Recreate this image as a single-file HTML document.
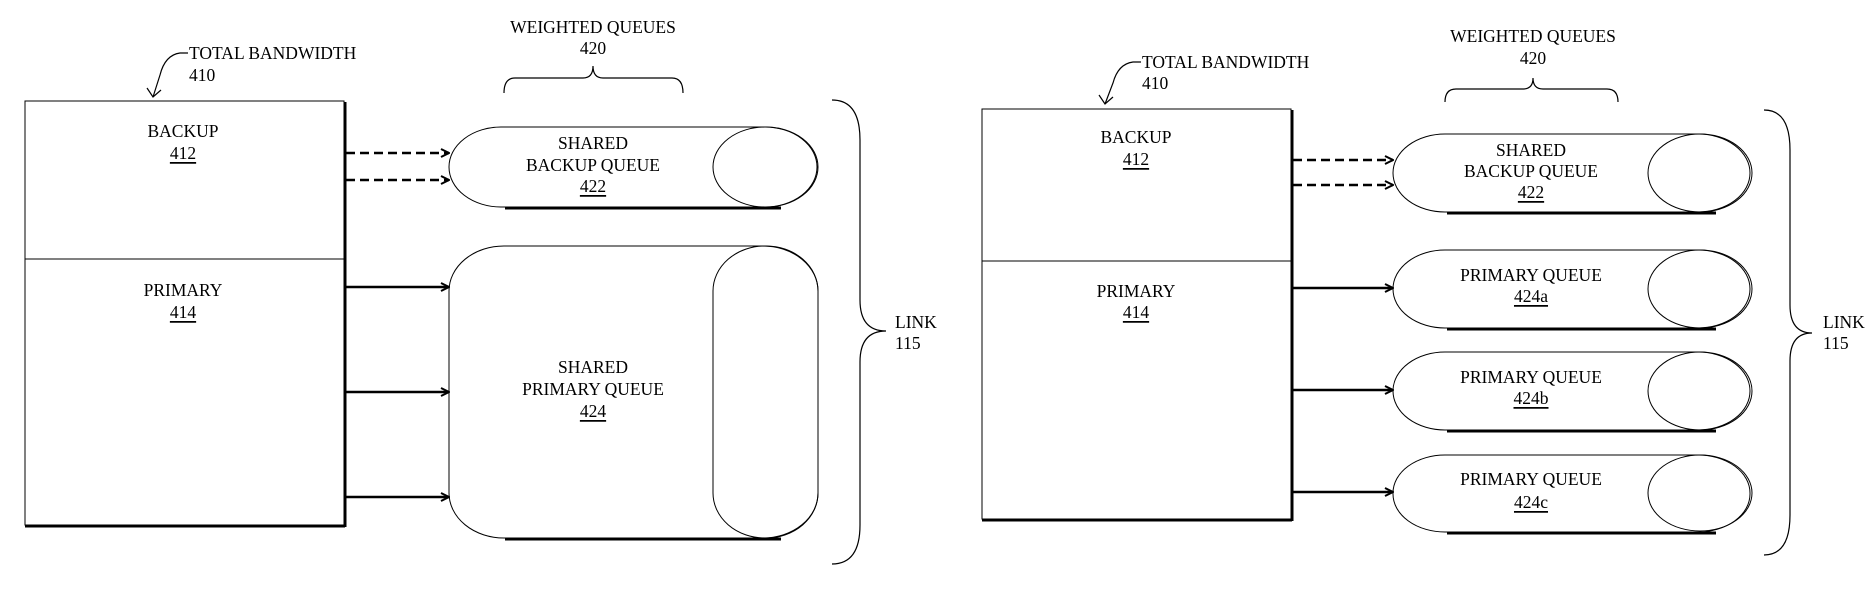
<!DOCTYPE html>
<html><head><meta charset="utf-8"><style>
html,body{margin:0;padding:0;background:#fff}
svg{display:block}
text{font-family:"Liberation Serif",serif;font-size:17.5px;fill:#000}
</style></head><body>
<svg width="1875" height="593" viewBox="0 0 1875 593" xmlns="http://www.w3.org/2000/svg">
<defs>
<marker id="ah" markerWidth="10" markerHeight="10" refX="9" refY="5" orient="auto" markerUnits="userSpaceOnUse">
<path d="M1,1 L9,5 L1,9" fill="none" stroke="#000" stroke-width="2"/>
</marker>
</defs>
<g fill="none" stroke="#000">
<!-- LEFT PANEL -->
<rect x="25" y="101" width="319" height="424" stroke-width="1"/>
<line x1="25" y1="526" x2="345" y2="526" stroke-width="3"/>
<line x1="345" y1="102" x2="345" y2="527" stroke-width="3"/>
<line x1="25" y1="259" x2="344" y2="259" stroke-width="1"/>
<line x1="346" y1="153" x2="449" y2="153" stroke-width="2.5" stroke-dasharray="9,5" marker-end="url(#ah)"/>
<line x1="346" y1="180" x2="449" y2="180" stroke-width="2.5" stroke-dasharray="9,5" marker-end="url(#ah)"/>
<line x1="346" y1="287" x2="449" y2="287" stroke-width="2.5" marker-end="url(#ah)"/>
<line x1="346" y1="392" x2="449" y2="392" stroke-width="2.5" marker-end="url(#ah)"/>
<line x1="346" y1="497" x2="449" y2="497" stroke-width="2.5" marker-end="url(#ah)"/>
<rect x="449" y="127" width="369" height="80" rx="52" ry="40" stroke-width="1"/>
<ellipse cx="765" cy="167" rx="52" ry="40" stroke-width="1"/>
<line x1="505" y1="208" x2="781" y2="208" stroke-width="3"/>
<rect x="449" y="246" width="369" height="292" rx="55" ry="45" stroke-width="1"/>
<rect x="713" y="246" width="105" height="292" rx="52" ry="45" stroke-width="1"/>
<line x1="505" y1="539" x2="781" y2="539" stroke-width="3"/>
<path d="M504,93 Q504,78 515,78 L583,78 Q593,78 593,66 Q593,78 603,78 L672,78 Q683,78 683,93" stroke-width="1.2"/>
<path d="M832,100 Q860,100 860,140 L860,300 Q860,331 886,331 Q860,331 860,362 L860,525 Q860,564 832,564" stroke-width="1.2"/>
<path d="M188,53 L180,53 Q165,55 160,75 L153,97" stroke-width="1.2"/>
<path d="M147,88 L153,97 L161,90" stroke-width="1.2"/>
<!-- RIGHT PANEL -->
<rect x="982" y="109" width="309" height="410" stroke-width="1"/>
<line x1="982" y1="520" x2="1292" y2="520" stroke-width="3"/>
<line x1="1292" y1="110" x2="1292" y2="521" stroke-width="3"/>
<line x1="982" y1="261" x2="1291" y2="261" stroke-width="1"/>
<line x1="1293" y1="160" x2="1393" y2="160" stroke-width="2.5" stroke-dasharray="9,5" marker-end="url(#ah)"/>
<line x1="1293" y1="185" x2="1393" y2="185" stroke-width="2.5" stroke-dasharray="9,5" marker-end="url(#ah)"/>
<line x1="1293" y1="288" x2="1393" y2="288" stroke-width="2.5" marker-end="url(#ah)"/>
<line x1="1293" y1="390" x2="1393" y2="390" stroke-width="2.5" marker-end="url(#ah)"/>
<line x1="1293" y1="492" x2="1393" y2="492" stroke-width="2.5" marker-end="url(#ah)"/>
<rect x="1393" y="134" width="357" height="78" rx="52" ry="39" stroke-width="1"/>
<ellipse cx="1700" cy="173" rx="52" ry="39" stroke-width="1"/>
<line x1="1447" y1="213" x2="1716" y2="213" stroke-width="3"/>
<rect x="1393" y="250" width="357" height="78" rx="52" ry="39" stroke-width="1"/>
<ellipse cx="1700" cy="289" rx="52" ry="39" stroke-width="1"/>
<line x1="1447" y1="329" x2="1716" y2="329" stroke-width="3"/>
<rect x="1393" y="352" width="357" height="78" rx="52" ry="39" stroke-width="1"/>
<ellipse cx="1700" cy="391" rx="52" ry="39" stroke-width="1"/>
<line x1="1447" y1="431" x2="1716" y2="431" stroke-width="3"/>
<rect x="1393" y="455" width="357" height="77" rx="52" ry="38" stroke-width="1"/>
<ellipse cx="1700" cy="493" rx="52" ry="38" stroke-width="1"/>
<line x1="1447" y1="533" x2="1716" y2="533" stroke-width="3"/>
<path d="M1445,102 Q1445,89 1456,89 L1523,89 Q1533,89 1533,78 Q1533,89 1543,89 L1607,89 Q1618,89 1618,102" stroke-width="1.2"/>
<path d="M1764,110 Q1790,110 1790,150 L1790,305 Q1790,333 1812,333 Q1790,333 1790,361 L1790,515 Q1790,555 1764,555" stroke-width="1.2"/>
<path d="M1141,62 L1133,62 Q1118,64 1113,83 L1105,104" stroke-width="1.2"/>
<path d="M1099,95 L1105,104 L1113,97" stroke-width="1.2"/>
</g>
<g text-anchor="middle" dominant-baseline="central">
<text x="183" y="131">BACKUP</text><text x="183" y="153" text-decoration="underline">412</text>
<text x="183" y="290">PRIMARY</text><text x="183" y="312" text-decoration="underline">414</text>
<text x="593" y="143">SHARED</text><text x="593" y="165">BACKUP QUEUE</text><text x="593" y="186" text-decoration="underline">422</text>
<text x="593" y="367">SHARED</text><text x="593" y="389">PRIMARY QUEUE</text><text x="593" y="411" text-decoration="underline">424</text>
<text x="593" y="27">WEIGHTED QUEUES</text><text x="593" y="48">420</text>
<text x="1136" y="137">BACKUP</text><text x="1136" y="159" text-decoration="underline">412</text>
<text x="1136" y="291">PRIMARY</text><text x="1136" y="312" text-decoration="underline">414</text>
<text x="1531" y="150">SHARED</text><text x="1531" y="171">BACKUP QUEUE</text><text x="1531" y="192" text-decoration="underline">422</text>
<text x="1531" y="275">PRIMARY QUEUE</text><text x="1531" y="296" text-decoration="underline">424a</text>
<text x="1531" y="377">PRIMARY QUEUE</text><text x="1531" y="398" text-decoration="underline">424b</text>
<text x="1531" y="479">PRIMARY QUEUE</text><text x="1531" y="502" text-decoration="underline">424c</text>
<text x="1533" y="36">WEIGHTED QUEUES</text><text x="1533" y="58">420</text>
</g>
<g dominant-baseline="central">
<text x="189" y="53">TOTAL BANDWIDTH</text><text x="189" y="75">410</text>
<text x="1142" y="62">TOTAL BANDWIDTH</text><text x="1142" y="83">410</text>
<text x="895" y="322">LINK</text><text x="895" y="343">115</text>
<text x="1823" y="322">LINK</text><text x="1823" y="343">115</text>
</g>
</svg>
</body></html>
